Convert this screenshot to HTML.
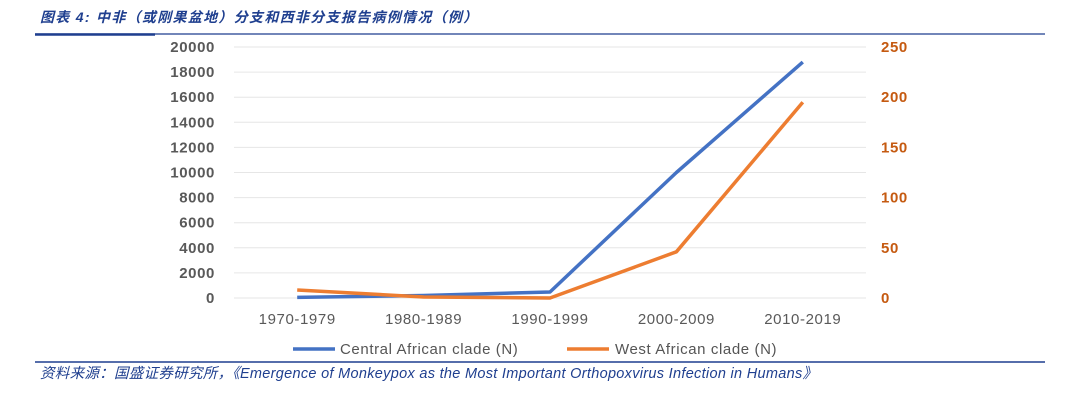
<!DOCTYPE html>
<html><head><meta charset="utf-8"><style>
body{margin:0;background:#fff;width:1080px;height:405px;overflow:hidden;font-family:"Liberation Sans","Noto Sans CJK SC",sans-serif}
</style></head><body>
<svg width="1080" height="405" font-family="Liberation Sans, Noto Sans CJK SC, sans-serif">
<text x="40" y="22" font-size="14" font-style="italic" font-weight="bold" fill="#1f3f8f" letter-spacing="1.3">图表 4:  中非（或刚果盆地）分支和西非分支报告病例情况（例）</text>
<line x1="35" y1="34" x2="1045" y2="34" stroke="#1f3f8f" stroke-width="1.2"/>
<line x1="35" y1="34.5" x2="155" y2="34.5" stroke="#1f3f8f" stroke-width="2.5"/>
<g id="grid"></g><g id="axes"></g><g id="lines"></g>
<g>
<line x1="293" y1="349" x2="335" y2="349" stroke="#4472c4" stroke-width="3.5"/>
<text x="340" y="354" font-size="15" fill="#555" letter-spacing="0.6">Central African clade (N)</text>
<line x1="567" y1="349" x2="609" y2="349" stroke="#ed7d31" stroke-width="3.5"/>
<text x="615" y="354" font-size="15" fill="#555" letter-spacing="0.6">West African clade (N)</text>
</g>
<line x1="35" y1="362" x2="1045" y2="362" stroke="#1f3f8f" stroke-width="1.5"/>
<text x="40" y="378" font-size="14.5" font-style="italic" fill="#1f3f8f" letter-spacing="0.3">资料来源：国盛证券研究所，《Emergence of Monkeypox as the Most Important Orthopoxvirus Infection in Humans》</text>
</svg>
<script>
const categories=["1970-1979","1980-1989","1990-1999","2000-2009","2010-2019"];
const centralValues=[50,200,480,10000,18800];
const westValues=[8,1,0,46,195];
const leftTicks=[0,2000,4000,6000,8000,10000,12000,14000,16000,18000,20000];
const rightTicks=[0,50,100,150,200,250];
const NS="http://www.w3.org/2000/svg";
const x0=234,x1=866,yB=298,yT=47;
const xs=i=>x0+(x1-x0)/categories.length*(i+0.5);
const yL=v=>yB-(v/20000)*(yB-yT);
const yR=v=>yB-(v/250)*(yB-yT);
function mk(t,a,p){const e=document.createElementNS(NS,t);for(const k in a)e.setAttribute(k,a[k]);document.getElementById(p).appendChild(e);return e;}
leftTicks.forEach(v=>{
 const g=mk('line',{x1:x0,x2:x1,y1:yL(v),y2:yL(v),stroke:'#e6e6e6','stroke-width':1},'grid');
 
 
 const t=mk('text',{x:215,y:yL(v)+5,'text-anchor':'end','font-size':15,'font-weight':'bold',fill:'#595959','letter-spacing':0.6},'axes');
 t.textContent=v;
 
 
});
rightTicks.forEach(v=>{
 const t=mk('text',{x:881,y:yR(v)+5,'font-size':15,'font-weight':'bold',fill:'#c55a11','letter-spacing':0.6},'axes');
 t.textContent=v;
 
 
});
categories.forEach((c,i)=>{
 const t=mk('text',{x:xs(i),y:324,'text-anchor':'middle','font-size':15,fill:'#595959','letter-spacing':0.6},'axes');
 t.textContent=c;
 
 
});
const pc=mk('polyline',{points:centralValues.map((v,i)=>xs(i)+','+yL(v)).join(' '),fill:'none',stroke:'#4472c4','stroke-width':3.5,'stroke-linejoin':'round'},'lines');


const pw=mk('polyline',{points:westValues.map((v,i)=>xs(i)+','+yR(v)).join(' '),fill:'none',stroke:'#ed7d31','stroke-width':3.5,'stroke-linejoin':'round'},'lines');


</script>
</body></html>
